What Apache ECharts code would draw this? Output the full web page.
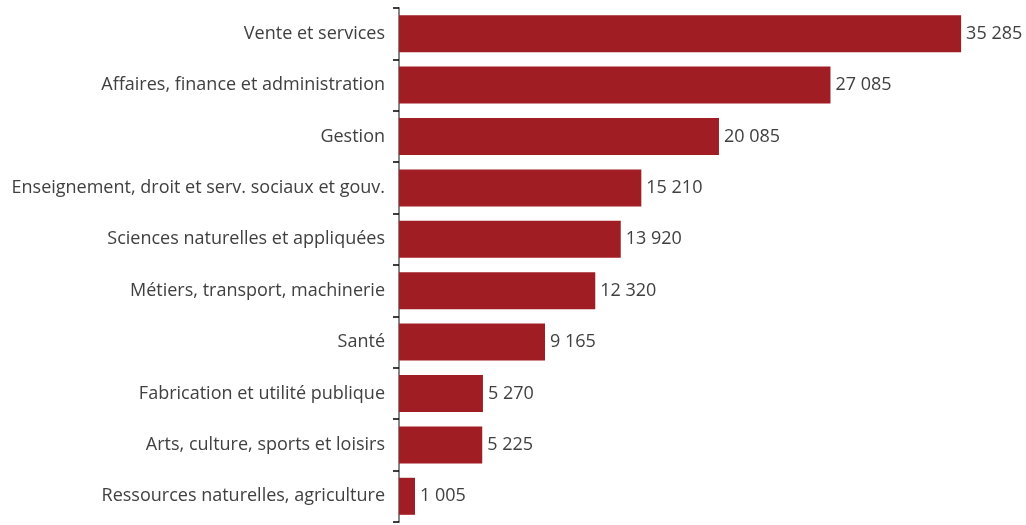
<!DOCTYPE html>
<html><head><meta charset="utf-8">
<script src="https://cdn.jsdelivr.net/npm/echarts@6/dist/echarts.min.js"></script>
<style>html,body{margin:0;padding:0;background:#fff}#c{width:1026px;height:525px}</style>
</head><body><div id="c"></div>
<script>
const categories = ["Vente et services","Affaires, finance et administration","Gestion","Enseignement, droit et serv. sociaux et gouv.","Sciences naturelles et appliquées","Métiers, transport, machinerie","Santé","Fabrication et utilité publique","Arts, culture, sports et loisirs","Ressources naturelles, agriculture"];
const values = [35285,27085,20085,15210,13920,12320,9165,5270,5225,1005];
const fmt = v => String(v).replace(/\B(?=(\d{3})+(?!\d))/g, ' ');
const chart = echarts.init(document.getElementById('c'));
chart.setOption({
  animation:false,
  grid:{left:399,right:10,top:8,bottom:3},
  xAxis:{type:'value',min:0,max:38730,show:false},
  yAxis:{type:'category',data:categories,inverse:true,boundaryGap:true,
    axisLine:{show:true,lineStyle:{color:'#868686',width:2}},
    axisTick:{show:true,alignWithLabel:false,interval:0,length:6,lineStyle:{color:'#000',width:1.5}},
    axisLabel:{fontFamily:'Open Sans',fontSize:18,color:'#404040',margin:14}},
  series:[{type:'bar',data:values,barWidth:'72%',itemStyle:{color:'#A01D23'},
    label:{show:true,position:'right',distance:5,fontFamily:'Open Sans',fontSize:18,color:'#404040',formatter:p=>fmt(p.value)}}]
});
</script></body></html>
